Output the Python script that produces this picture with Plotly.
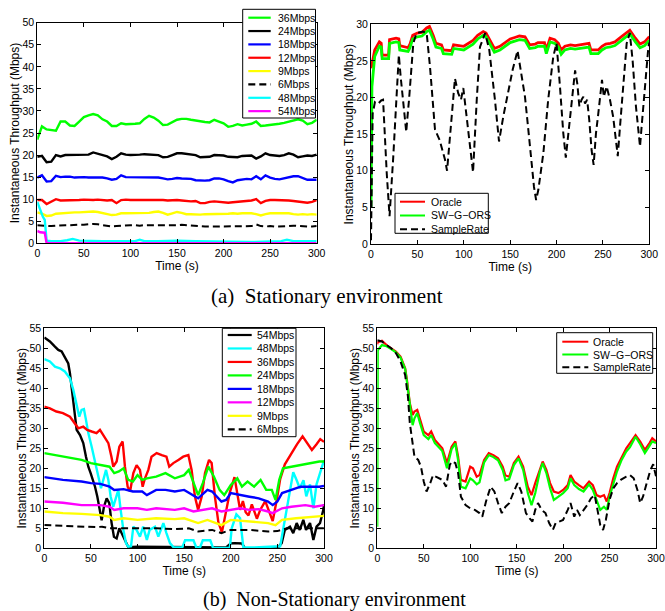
import plotly.graph_objects as go

W, H = 665, 611
SANS = "Liberation Sans, Arial, Helvetica, sans-serif"
SERIF = "Liberation Serif, Times New Roman, serif"

# ================= DATA =================
# ---- (a) Stationary: fixed rates, sampled every 5 s ----
T5 = list(range(0, 301, 5))
A36 = [23.5, 26.5, 25.8, 25.6, 25.5, 27.6, 27.6, 26.7, 26.6, 27.6,
       28.6, 29.0, 29.3, 29.0, 28.1, 27.6, 26.6, 26.6, 27.2, 27.0,
       27.0, 27.1, 27.2, 28.2, 28.9, 28.5, 27.8, 26.8, 26.9, 27.4,
       28.0, 28.2, 28.2, 28.0, 27.8, 27.6, 27.5, 27.4, 28.0, 27.6,
       27.2, 26.4, 26.6, 27.0, 26.7, 26.9, 27.1, 27.6, 26.6, 26.7,
       26.8, 27.0, 27.1, 27.3, 27.6, 27.9, 28.1, 27.8, 27.0, 27.3,
       28.0]
A24 = [19.6, 19.8, 18.4, 18.5, 20.0, 19.7, 20.0, 20.0, 20.1, 20.0,
       20.0, 20.1, 20.6, 20.3, 20.0, 19.7, 19.1, 19.6, 20.4, 20.1,
       20.0, 20.0, 20.1, 20.2, 20.1, 20.0, 20.0, 19.5, 19.6, 20.0,
       20.4, 20.4, 20.3, 20.1, 20.0, 19.5, 19.5, 19.6, 20.0, 20.0,
       19.9, 19.6, 19.5, 19.5, 19.8, 19.8, 19.9, 19.2, 19.7, 20.4,
       20.0, 19.9, 19.8, 20.0, 20.4, 20.1, 19.5, 19.7, 19.9, 19.8,
       20.1]
A18 = [14.9, 15.4, 14.0, 14.1, 15.3, 15.0, 15.1, 15.1, 14.9, 15.0,
       15.0, 14.9, 14.9, 15.0, 14.9, 14.7, 14.4, 14.6, 15.4, 15.0,
       15.0, 14.9, 14.9, 15.0, 15.0, 15.0, 14.9, 14.7, 14.5, 14.6,
       14.8, 14.7, 14.7, 14.6, 14.3, 14.2, 14.2, 14.3, 14.7, 14.7,
       14.5, 14.1, 13.8, 14.3, 14.5, 14.6, 14.5, 15.2, 14.5, 15.4,
       14.9, 14.6, 14.5, 14.7, 15.0, 15.2, 15.2, 14.8, 14.4, 14.4,
       14.4]
A12 = [9.8, 9.8, 8.9, 9.4, 10.0, 9.7, 9.7, 9.7, 9.8, 9.8,
       9.9, 9.8, 9.8, 9.9, 9.8, 9.7, 9.8, 9.1, 9.8, 9.9,
       9.8, 9.8, 9.9, 9.8, 9.9, 9.8, 9.8, 9.8, 9.7, 9.8,
       9.8, 9.7, 9.6, 9.5, 9.6, 9.1, 9.1, 9.4, 9.5, 9.4,
       9.3, 9.2, 9.3, 9.4, 9.5, 9.6, 9.7, 10.0, 9.1, 9.6,
       9.8, 9.8, 9.8, 9.8, 9.7, 9.6, 9.5, 9.4, 9.2, 9.4,
       9.8]
A9 = [7.0, 6.7, 6.2, 6.3, 6.7, 6.8, 6.9, 6.9, 7.0, 7.0,
      7.1, 7.2, 7.2, 7.1, 6.9, 6.7, 6.4, 6.5, 6.8, 6.8,
      6.8, 6.8, 6.9, 6.9, 6.9, 7.1, 7.2, 6.9, 6.5, 6.8,
      7.1, 6.9, 6.6, 6.6, 6.5, 6.5, 6.6, 6.6, 6.7, 6.6,
      6.6, 6.7, 6.8, 6.7, 6.8, 6.8, 6.8, 6.6, 6.3, 6.6,
      6.8, 6.8, 6.8, 6.9, 6.8, 6.6, 6.5, 6.6, 6.5, 6.6,
      6.5]
A6 = [4.1, 4.0, 3.9, 3.9, 4.0, 4.1, 4.1, 4.1, 4.2, 4.2,
      4.2, 4.3, 4.4, 4.3, 4.1, 4.0, 3.8, 3.9, 4.0, 4.1,
      4.1, 4.1, 4.0, 4.1, 4.1, 4.0, 4.1, 4.1, 4.1, 4.0,
      4.1, 4.2, 4.1, 4.0, 4.0, 3.9, 3.8, 3.8, 3.8, 3.8,
      3.8, 3.8, 3.8, 3.8, 3.8, 3.9, 3.9, 4.3, 3.9, 3.8,
      3.9, 3.8, 3.8, 3.9, 3.9, 4.0, 3.9, 3.8, 3.8, 3.8,
      3.9]
A48_T = [0, 3, 6, 8, 9, 10, 15, 25, 32, 38, 45, 55, 70, 90, 105, 110, 115, 130, 150, 170,
         190, 210, 230, 250, 262, 268, 275, 285, 300]
A48 = [9.4, 7.5, 6.0, 5.3, 2.3, 0.6, 0.5, 0.5, 0.7, 1.0, 0.6, 0.5, 0.5, 0.5, 0.5, 0.8, 0.5, 0.5, 0.6, 0.5,
       0.4, 0.3, 0.3, 0.4, 0.5, 0.8, 0.5, 0.5, 0.5]
A54_T = [0, 3, 8, 9, 10, 300]
A54 = [2.8, 2.5, 2.4, 1.0, 0.0, 0.0]

# ---- (a) Stationary: algorithms ----
TR_T = [0, 1, 4, 9, 11, 12, 19, 20, 27, 30,
        31, 40, 42, 45, 50, 55, 60, 63, 67, 70,
        76, 78, 87, 89, 100, 105, 110, 115, 121, 124,
        128, 133, 139, 144, 150, 155, 160, 166, 171, 177,
        180, 187, 189, 193, 198, 202, 205, 209, 215, 220,
        225, 231, 235, 237, 245, 249, 253, 258, 263, 268,
        274, 279, 285, 290, 295, 300]
TR_ORACLE = [24.0, 24.5, 26.5, 27.6, 27.4, 25.8, 25.8, 27.9, 28.1, 28.0,
             27.1, 26.8, 27.3, 28.5, 28.8, 28.9, 29.5, 29.7, 28.5, 27.4,
             27.2, 26.5, 26.4, 27.2, 27.0, 27.4, 27.8, 28.5, 29.0, 28.8,
             27.9, 26.7, 27.0, 27.4, 28.0, 28.2, 28.4, 28.3, 27.2, 27.3,
             27.5, 27.5, 26.5, 28.1, 27.9, 27.4, 26.5, 27.0, 27.2, 27.1,
             27.2, 27.4, 27.4, 26.5, 26.5, 27.0, 27.3, 27.4, 27.6, 28.1,
             28.7, 29.2, 28.1, 27.3, 27.6, 28.3]
TR_SWG = [5.0, 21.5, 25.6, 27.0, 26.9, 25.3, 25.3, 27.4, 27.6, 27.5,
          26.5, 26.3, 26.8, 28.0, 28.3, 28.4, 29.0, 29.2, 28.0, 26.9,
          26.7, 26.0, 25.9, 26.7, 26.5, 26.9, 27.3, 28.0, 28.5, 28.3,
          27.4, 26.2, 26.5, 26.9, 27.5, 27.7, 27.9, 27.8, 26.7, 26.8,
          27.0, 27.0, 26.0, 27.6, 27.4, 26.9, 25.9, 26.5, 26.7, 26.6,
          26.7, 26.9, 26.9, 26.0, 26.0, 26.5, 26.8, 26.9, 27.1, 27.6,
          28.2, 28.7, 27.6, 26.8, 27.1, 27.8]
SR_T = [0, 1.8, 4.3, 8, 11, 13, 17, 20, 24, 30,
        32, 35.6, 38, 39, 41, 45.6, 49, 56, 60, 63.6,
        69, 74, 79.8, 82, 86, 90.5, 94, 97, 99.5, 101,
        106, 110, 114, 117.5, 123, 127.5, 133.6, 138, 142.6, 148,
        152.7, 158, 161.3, 166, 170.7, 175.7, 178, 180.4, 185.8, 191,
        196.5, 200, 203.7, 207.3, 210, 212.7, 217.4, 220, 222.4, 224.6,
        227, 228.9, 230.7, 233, 235.3, 237.8, 240, 242.5, 245, 249,
        251, 254, 257.6, 261, 264, 266, 268.4, 272, 275.6, 279,
        282, 285.6, 290, 291.7, 295.3, 299, 300]
SR_V = [0.5, 17.8, 19.4, 19.2, 19.6, 19.7, 9.6, 3.8, 11.9, 25.8,
        22.8, 18.3, 15.3, 16.9, 19.7, 27.4, 28.8, 29.0, 28.8, 24.2,
        15.6, 14.2, 11.5, 10.0, 16.5, 22.6, 20.6, 19.7, 21.3, 19.7,
        14.7, 9.8, 19.7, 26.9, 28.8, 26.5, 19.7, 14.0, 17.4, 20.6,
        23.8, 26.4, 23.8, 20.1, 14.2, 7.8, 6.0, 7.4, 12.4, 19.7,
        25.6, 27.4, 21.5, 15.1, 11.8, 15.1, 20.6, 23.7, 21.9, 18.8,
        19.7, 20.1, 19.2, 19.7, 16.9, 12.8, 10.8, 15.1, 17.8, 22.4,
        20.1, 21.5, 19.7, 17.4, 14.2, 12.0, 16.0, 21.9, 27.4, 28.8,
        25.1, 18.8, 13.3, 16.0, 21.9, 26.9, 27.5]

# ---- (b) Non-stationary: fixed rates ----
B54_T = [0, 6, 11.4, 15, 18.6, 22, 25.7, 27.5, 29.3, 31.8,
         34.7, 38.3, 41.8, 44.7, 47.2, 49.7, 54.4, 56.9, 59.7, 61.5,
         64, 66.9, 69.7, 72.2, 74.7, 77.6, 80.5, 83, 86.5, 90,
         100, 130, 160, 195, 200, 204, 212, 215, 220, 250,
         254.6, 258, 263.5, 267, 270.7, 274, 277.8, 280.7, 285, 288.6,
         292, 295.7, 299.3, 300]
B54 = [52.7, 51.7, 50.4, 49.6, 49.2, 47.9, 46.2, 43.8, 40.4, 35.4,
       29.6, 28.3, 26.3, 22.9, 20.4, 18.8, 15.4, 12.9, 9.6, 7.0,
       10.4, 12.5, 11.3, 6.3, 2.9, 2.5, 5.0, 3.8, 2.1, 0.3,
       0.4, 0.3, 0.2, 0.2, 1.2, 1.3, 1.2, 0.1, 0.0, 0.0,
       1.3, 4.6, 5.4, 3.8, 6.3, 4.6, 7.1, 4.6, 6.3, 2.1,
       5.4, 6.3, 9.6, 11.0]
B48_T = [0, 6, 11.4, 16.8, 22, 27.5, 31.1, 34.7, 37.5, 40,
         42.5, 44.7, 47.2, 50.8, 54.4, 57.9, 60.8, 63.3, 66.2, 68.7,
         71.2, 74, 76.9, 79.4, 81.9, 84.8, 87.6, 90, 93, 95.5,
         99, 102.6, 106, 110, 113, 118.7, 122.3, 127.7, 131, 134.8,
         138.4, 148, 151, 160, 163, 167, 170, 178, 181, 199,
         201, 206, 210, 213.5, 224, 253, 256.4, 263.5, 267, 270.7,
         274, 278, 281, 285, 288.6, 292, 295.7, 300]
B48 = [47.3, 46.7, 45.4, 45.0, 44.2, 42.5, 39.6, 35.8, 32.9, 34.6,
       34.8, 32.1, 28.8, 25.4, 21.7, 17.9, 15.0, 17.1, 19.6, 17.1,
       12.9, 10.4, 12.9, 14.6, 9.6, 4.6, 1.3, 0.4, 0.5, 5.4,
       4.6, 2.9, 5.4, 2.1, 4.6, 5.4, 2.9, 6.3, 3.8, 1.3,
       0.3, 0.2, 2.0, 2.0, 0.2, 0.2, 2.0, 2.0, 0.1, 0.1,
       5.0, 8.5, 7.5, 0.2, 0.2, 0.5, 5.0, 15.0, 19.0, 17.0,
       15.0, 17.0, 13.0, 16.0, 10.0, 16.0, 19.0, 22.0]
B36_T = [0, 6, 13, 20, 27.5, 33, 36.5, 41.8, 46, 50.8,
         56, 59.7, 64, 68.7, 72, 74, 77.6, 80.5, 84, 86.5,
         89.4, 92, 95.5, 99, 102.6, 105.5, 108, 111.6, 115, 120.5,
         126, 131, 134, 138.4, 143.8, 149, 154.5, 158, 161.6, 165,
         168.8, 172.4, 176.7, 179.5, 183, 186.7, 190.5, 194, 199, 204,
         207, 210, 213, 216, 219, 222.6, 228, 231.6, 237, 242.4,
         245, 249.5, 253, 258, 265, 271, 277, 282, 287, 292,
         296, 300]
B36 = [35.4, 35.0, 34.2, 33.8, 32.9, 31.3, 30.0, 30.4, 29.6, 29.2,
       28.8, 29.6, 27.9, 26.3, 22.9, 20.4, 21.7, 25.4, 26.7, 20.4,
       15.4, 14.2, 18.8, 20.8, 19.6, 15.4, 17.5, 19.6, 22.9, 23.8,
       23.3, 22.9, 20.4, 21.3, 22.1, 22.9, 23.3, 19.6, 12.9, 9.6,
       12.9, 18.8, 22.1, 21.3, 12.9, 6.5, 4.0, 7.9, 14.0, 17.8,
       13.5, 9.6, 11.8, 9.0, 8.2, 11.0, 7.4, 9.6, 11.8, 8.6,
       6.8, 12.3, 17.3, 21.0, 23.8, 26.0, 28.0, 26.3, 24.6, 26.0,
       27.3, 26.6]
B24_T = [0, 20, 40, 50, 60, 70, 75, 80, 85, 90,
         95, 100, 105, 110, 120, 130, 140, 150, 155, 160,
         165, 170, 176, 182, 188, 193, 200, 207, 212, 218,
         225, 232, 238, 244, 248, 252, 256, 265, 275, 285,
         295, 300]
B24 = [23.8, 22.9, 22.1, 21.3, 20.8, 20.4, 18.8, 19.2, 20.0, 17.1,
       16.7, 18.3, 17.1, 17.5, 17.9, 18.8, 17.5, 18.3, 19.6, 16.3,
       13.3, 16.3, 20.4, 17.9, 14.6, 13.3, 15.8, 17.5, 15.4, 16.7,
       15.4, 17.1, 14.6, 14.6, 12.1, 17.1, 20.0, 20.4, 20.8, 21.3,
       21.7, 21.7]
B18_T = [0, 20, 40, 50, 60, 70, 75, 85, 95, 105,
         110, 120, 130, 140, 150, 160, 165, 175, 180, 190,
         195, 200, 210, 220, 230, 240, 245, 250, 255, 265,
         275, 285, 295, 300]
B18 = [17.8, 17.1, 16.7, 16.3, 16.1, 15.4, 14.6, 14.8, 14.2, 14.2,
       13.3, 14.6, 14.6, 14.2, 14.6, 13.3, 12.5, 14.6, 14.2, 11.7,
       12.1, 13.8, 13.3, 12.9, 12.5, 11.7, 10.8, 11.7, 13.8, 14.6,
       15.4, 15.4, 15.4, 15.6]
B12_T = [0, 20, 40, 60, 70, 75, 85, 100, 110, 120,
         140, 150, 160, 170, 180, 190, 200, 210, 220, 230,
         240, 245, 255, 265, 280, 290, 300]
B12 = [11.7, 11.4, 10.8, 10.8, 10.4, 9.6, 10.0, 10.0, 9.6, 10.0,
       9.6, 10.0, 9.2, 9.6, 10.0, 9.2, 9.6, 10.0, 9.6, 9.8,
       9.2, 8.8, 10.0, 10.4, 10.8, 10.4, 10.8]
B9_T = [0, 20, 40, 60, 70, 75, 85, 100, 120, 140,
        150, 165, 175, 190, 200, 220, 240, 248, 255, 270,
        290, 300]
B9 = [9.2, 8.8, 8.6, 8.3, 7.9, 7.1, 7.5, 7.1, 7.5, 7.3,
      7.5, 6.3, 7.1, 5.8, 7.1, 6.7, 6.3, 5.8, 7.1, 7.5,
      7.8, 8.1]
B6_T = [0, 20, 40, 55, 62, 70, 80, 100, 120, 140,
        155, 165, 180, 190, 200, 220, 240, 250, 260, 280,
        300]
B6 = [5.8, 5.6, 5.4, 5.3, 5.4, 5.0, 5.0, 5.0, 5.0, 4.8,
      5.0, 4.2, 4.6, 3.8, 4.6, 4.6, 4.2, 4.3, 5.0, 5.0,
      5.0]

# ---- (b) Non-stationary: algorithms ----
BR_T = [0, 0.5, 5, 10, 15, 20, 25, 30, 32, 35,
        38, 40, 43, 46, 50, 55, 58, 62, 70, 75,
        80, 84, 87, 90, 95, 100, 103, 107, 110, 115,
        120, 125, 130, 135, 138, 142, 147, 152, 157, 162,
        166, 170, 175, 178, 182, 186, 190, 195, 200, 205,
        208, 212, 217, 222, 228, 232, 236, 240, 244, 247,
        250, 254, 258, 263, 268, 272, 278, 283, 288, 293,
        296, 300]
BR_ORACLE = [51.0, 51.5, 51.9, 50.8, 50.0, 49.2, 47.9, 45.0, 42.0, 36.3,
             33.3, 34.2, 34.6, 32.1, 29.2, 28.3, 29.2, 27.1, 25.0, 21.3,
             25.4, 26.7, 22.9, 17.1, 16.7, 20.4, 20.0, 17.9, 18.3, 22.1,
             23.8, 23.3, 22.5, 20.4, 18.2, 17.9, 21.3, 22.9, 20.4, 15.4,
             13.3, 16.3, 20.0, 21.7, 19.6, 16.3, 14.2, 13.8, 14.6, 15.8,
             18.3, 16.7, 15.8, 15.0, 16.7, 15.8, 13.3, 12.9, 13.3, 11.7,
             13.8, 17.5, 20.4, 22.9, 25.0, 26.3, 28.3, 26.7, 24.6, 26.3,
             27.5, 26.7]
BR_SWG = [5.4, 49.5, 50.8, 50.5, 49.8, 49.0, 47.7, 44.8, 41.5, 35.5,
          30.8, 32.5, 33.8, 31.3, 28.3, 27.3, 28.3, 26.3, 24.3, 20.0,
          24.8, 26.2, 22.0, 15.4, 15.0, 17.5, 17.0, 16.0, 16.5, 21.5,
          23.3, 22.8, 22.0, 19.6, 17.0, 17.3, 20.8, 22.5, 19.6, 13.8,
          10.8, 13.8, 19.2, 21.3, 18.8, 15.0, 12.1, 12.9, 13.8, 15.0,
          17.5, 15.8, 14.8, 14.2, 16.0, 14.6, 12.1, 9.6, 10.4, 9.6,
          12.9, 16.3, 19.2, 22.1, 24.2, 25.3, 27.9, 26.0, 23.8, 25.6,
          26.7, 26.3]
BS_T = [0, 5, 10, 15, 20, 25, 30, 33, 35, 37,
        40, 44, 47, 50, 53, 57, 60, 63, 66, 70,
        74, 78, 80, 84, 87, 90, 95, 100, 105, 110,
        113, 117, 122, 126, 130, 134, 138, 142, 147, 151,
        155, 160, 164, 167, 170, 173, 177, 181, 185, 189,
        192, 196, 200, 205, 208, 212, 215, 218, 222, 226,
        230, 234, 237, 240, 243, 246, 250, 254, 258, 262,
        268, 272, 276, 280, 283, 286, 290, 294, 297, 300]
BS_V = [52.0, 51.7, 50.8, 50.0, 48.8, 46.7, 43.3, 37.9, 31.3, 27.9,
        22.9, 22.1, 20.4, 16.7, 14.2, 16.3, 18.3, 17.9, 17.5, 17.1,
        15.4, 20.8, 21.7, 21.3, 18.8, 12.9, 10.8, 10.0, 9.6, 8.8,
        7.9, 11.7, 15.4, 14.2, 11.3, 8.8, 10.4, 11.3, 14.2, 16.3,
        14.2, 8.8, 7.5, 6.7, 9.6, 11.3, 9.6, 8.8, 6.3, 4.6,
        6.3, 6.7, 7.1, 9.6, 11.3, 7.9, 9.6, 8.3, 9.6, 10.8,
        12.5, 13.3, 9.6, 5.8, 4.6, 7.1, 12.1, 15.0, 16.3, 17.1,
        17.9, 18.3, 17.5, 14.6, 11.3, 12.9, 16.3, 19.6, 21.0, 18.0]

X_TICKS = [0, 50, 100, 150, 200, 250, 300]
CAPTION_A = "(a)  Stationary environment"
CAPTION_B = "(b)  Non-Stationary environment"

# ================= STYLES =================
GREEN, BLACK, BLUE, RED = "#00ff00", "#000000", "#0000ff", "#ff0000"
YELLOW, CYAN, MAGENTA = "#ffff00", "#00ffff", "#ff00ff"
DASH = "7px,4px"
LW = 2.4

fig = go.Figure()


def add(t, v, color, ax, width=LW, dash="solid"):
    fig.add_trace(go.Scatter(
        x=t, y=v, mode="lines", showlegend=False, hoverinfo="skip",
        line=dict(color=color, width=width, dash=dash),
        xaxis="x" + ax, yaxis="y" + ax))


# top-left
TL = [("36Mbps", T5, A36, GREEN, "solid"), ("24Mbps", T5, A24, BLACK, "solid"),
      ("18Mbps", T5, A18, BLUE, "solid"), ("12Mbps", T5, A12, RED, "solid"),
      ("9Mbps", T5, A9, YELLOW, "solid"), ("6Mbps", T5, A6, BLACK, DASH),
      ("48Mbps", A48_T, A48, CYAN, "solid"), ("54Mbps", A54_T, A54, MAGENTA, "solid")]
for name, t, v, c, d in TL:
    add(t, v, c, "", LW if d == "solid" else 2.0, d)

# top-right
TRS = [("Oracle", TR_T, TR_ORACLE, RED, "solid", 2.8),
       ("SW\u2212G\u2212ORS", TR_T, TR_SWG, GREEN, "solid", 2.8),
       ("SampleRate", SR_T, SR_V, BLACK, DASH, 2.0)]
for name, t, v, c, d, w in TRS:
    add(t, v, c, "2", w, d)

# bottom-left
BL = [("54Mbps", B54_T, B54, BLACK, "solid"), ("48Mbps", B48_T, B48, CYAN, "solid"),
      ("36Mbps", B36_T, B36, RED, "solid"), ("24Mbps", B24_T, B24, GREEN, "solid"),
      ("18Mbps", B18_T, B18, BLUE, "solid"), ("12Mbps", B12_T, B12, MAGENTA, "solid"),
      ("9Mbps", B9_T, B9, YELLOW, "solid"), ("6Mbps", B6_T, B6, BLACK, DASH)]
for name, t, v, c, d in BL:
    add(t, v, c, "3", LW if d == "solid" else 2.0, d)

# bottom-right
BRS = [("Oracle", BR_T, BR_ORACLE, RED, "solid", 2.2),
       ("SW\u2212G\u2212ORS", BR_T, BR_SWG, GREEN, "solid", 2.2),
       ("SampleRate", BS_T, BS_V, BLACK, DASH, 2.0)]
for name, t, v, c, d, w in BRS:
    add(t, v, c, "4", w, d)


def px(x):
    return x / W


def py(y):
    return 1 - y / H


def axis_style(**kw):
    d = dict(showline=True, linecolor="black", linewidth=1, mirror="ticks",
             ticks="inside", ticklen=4, tickcolor="black", showgrid=False,
             zeroline=False, fixedrange=True, automargin=False,
             tickfont=dict(family=SANS, size=10.5, color="black"),
             title_font=dict(family=SANS, size=12, color="black"))
    d.update(kw)
    return d


PANELS = {
    "": ((37.3, 316.7), (22.7, 243.3), 50),
    "2": ((371.0, 649.3), (24.3, 244.0), 30),
    "3": ((44.3, 324.0), (328.3, 548.3), 55),
    "4": ((377.3, 656.0), (328.3, 548.3), 55),
}
layout = dict(width=W, height=H, margin=dict(l=0, r=0, t=0, b=0, autoexpand=False),
              paper_bgcolor="white", plot_bgcolor="white", showlegend=False)
for k, ((x0, x1), (y0, y1), ymax) in PANELS.items():
    layout["xaxis" + k] = axis_style(
        domain=[px(x0), px(x1)], anchor="y" + k, range=[0, 300],
        tickvals=X_TICKS, title=dict(text="Time (s)", standoff=3))
    layout["yaxis" + k] = axis_style(
        domain=[py(y1), py(y0)], anchor="x" + k, range=[0, ymax],
        dtick=5, tick0=0,
        title=dict(text="Instantaneous Throughput (Mbps)", standoff=0))
fig.update_layout(**layout)

# ---------- manual MATLAB-style legends ----------
shapes, annots = [], []


def legend(items, box, row0, step, lx0, lx1, tx):
    bx0, by0, bx1, by1 = box
    shapes.append(dict(type="rect", xref="paper", yref="paper",
                       x0=px(bx0), x1=px(bx1), y0=py(by1), y1=py(by0),
                       line=dict(color="black", width=1), fillcolor="white", layer="above"))
    for i, it in enumerate(items):
        name, color, dash, w = it
        yy = row0 + i * step
        shapes.append(dict(type="line", xref="paper", yref="paper",
                           x0=px(lx0), x1=px(lx1), y0=py(yy), y1=py(yy),
                           line=dict(color=color, width=w, dash=dash), layer="above"))
        annots.append(dict(text=name, xref="paper", yref="paper", x=px(tx), y=py(yy),
                           xanchor="left", yanchor="middle", showarrow=False,
                           font=dict(family=SANS, size=10.5, color="black")))


legend([(n, c, d, 2.2) for n, t, v, c, d in TL], (242.7, 9.3, 315.5, 118.0), 17.7, 13.35, 248.3, 270.7, 275.5)
legend([(n, c, d, 2.0) for n, t, v, c, d, w in TRS], (395.0, 193.3, 488.3, 233.3), 201.7, 13.8, 400.0, 425.0, 428.5)
legend([(n, c, d, 2.2) for n, t, v, c, d in BL], (222.3, 328.3, 296.0, 436.7), 335.0, 13.47, 227.7, 251.7, 255.0)
legend([(n, c, d, 2.0) for n, t, v, c, d, w in BRS], (556.7, 332.7, 652.7, 373.3), 341.7, 12.8, 562.3, 588.3, 590.7)

annots.append(dict(text=CAPTION_A, xref="paper", yref="paper", x=px(326.5), y=py(296.5),
                   xanchor="center", yanchor="middle", showarrow=False,
                   font=dict(family=SERIF, size=21, color="black")))
annots.append(dict(text=CAPTION_B, xref="paper", yref="paper", x=px(334.0), y=py(599.0),
                   xanchor="center", yanchor="middle", showarrow=False,
                   font=dict(family=SERIF, size=20, color="black")))

fig.update_layout(shapes=shapes, annotations=annots)
fig.write_html("out.html", config={"displayModeBar": False},
               post_script="document.body.style.margin='0';document.body.style.padding='0';")
